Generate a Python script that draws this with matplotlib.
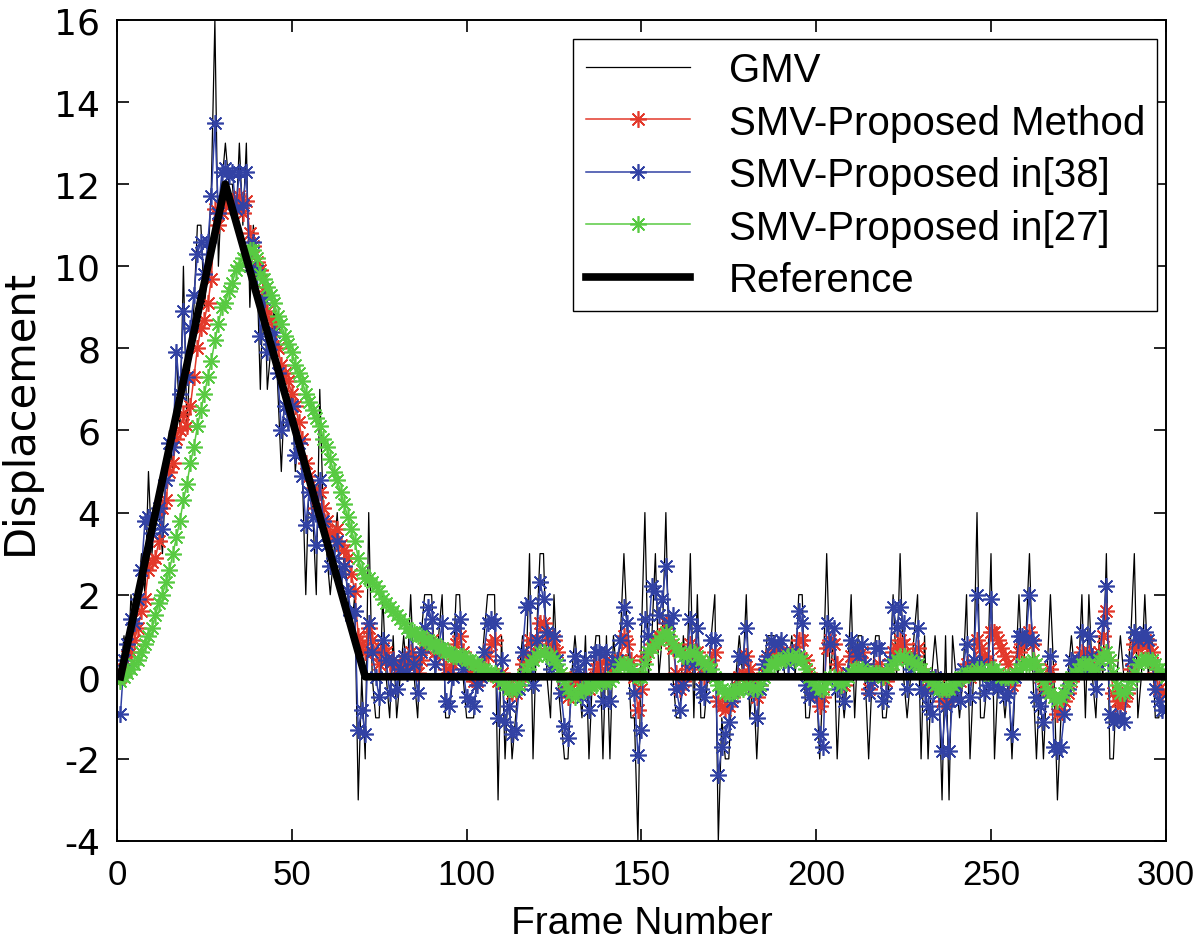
import numpy as np
import matplotlib
matplotlib.use("Agg")
import matplotlib.pyplot as plt

# frame numbers 1..300
frames = np.arange(1, 301)

gmv = [
    0, 1, 0, 2, 1, 2, 3, 2, 5, 3,
    4, 4, 3, 5, 6, 5, 8, 6, 10, 6,
    8, 9, 11, 11, 9, 10, 12, 16, 10, 12,
    13, 12, 12, 11, 13, 11, 13, 9, 11, 10,
    7, 10, 7, 8, 9, 7, 5, 7, 6, 7,
    5, 6, 5, 2, 5, 4, 2, 7, 4, 3,
    2, 3, 4, 2, 3, 2, 1, 2, -3, 0,
    -2, 4, 0, -1, -1, 2, 0, -1, 1, -1,
    0, 1, 0, 2, 0, -1, 1, 2, 2, 2,
    0, 1, 2, -1, -1, 0, 2, 2, 0, -1,
    -1, -1, 0, 0, 1, 2, 2, 2, -3, 1,
    -2, 0, -2, -1, 0, 1, 0, 3, -2, 1,
    3, 3, 0, -1, 2, 0, -1, -2, -2, 0,
    1, 0, -1, 1, -2, 0, 1, 1, -2, 1,
    -2, 1, 0, 1, 3, 1, -1, -1, -4, 1,
    4, 0, 1, 3, 0, 1, 4, 0, 0, -1,
    -1, 1, 0, 3, -1, 2, -1, -1, 0, 1,
    2, -4, -1, -2, -2, 0, 0, 1, 0, 2,
    -1, 0, -2, 0, 0, 1, 1, 1, 0, 1,
    0, 0, 1, 0, 2, 2, -1, -1, 0, 0,
    -2, 0, 3, 0, 1, -2, 0, -1, 0, 2,
    -1, 1, 1, 0, -2, 0, 1, 1, -1, -1,
    0, 2, 0, 3, 0, -1, 0, 1, 2, -2,
    1, -2, 0, 1, 0, -3, 1, -3, 1, 0,
    -1, 0, 2, -2, 0, 4, -1, -1, 0, 3,
    -2, 0, 0, -1, 0, -2, 0, 2, 0, 1,
    3, 0, -2, 0, -2, 0, 2, 0, -3, -1,
    0, 0, 1, 0, 0, 2, -1, 2, 0, -1,
    1, 0, 3, -2, -2, 0, 1, 0, 0, 1,
    3, -1, 0, 2, 0, 1, -1, -1, 0, 0,
]

smv_proposed = [
    0.0, 0.2, 0.5, 0.6, 0.9, 1.2, 1.6, 1.9, 2.6, 2.8,
    2.9, 3.3, 4.1, 4.3, 5.0, 5.2, 5.8, 6.0, 6.4, 6.1,
    6.6, 7.3, 8.0, 8.5, 8.7, 9.1, 9.7, 11.4, 11.0, 11.3,
    11.5, 11.6, 11.6, 11.5, 11.7, 11.3, 11.6, 10.8, 10.5, 10.1,
    9.9, 9.4, 8.9, 8.7, 8.6, 8.0, 7.6, 7.4, 7.2, 6.9,
    6.6, 6.2, 5.8, 5.2, 4.9, 4.6, 4.1, 4.5, 4.1, 3.8,
    3.5, 3.4, 3.6, 3.2, 3.1, 2.9, 2.5, 2.1, 1.0, 0.8,
    0.6, 1.2, 0.9, 0.6, 0.3, 0.7, 0.6, 0.3, 0.4, 0.2,
    0.3, 0.4, 0.3, 0.6, 0.4, 0.1, 0.4, 0.7, 0.9, 0.9,
    0.6, 0.5, 0.7, 0.2, 0.1, 0.3, 0.8, 1.0, 0.6, 0.3,
    0.1, -0.1, -0.1, 0.0, 0.2, 0.5, 0.8, 0.9, -0.1, 0.1,
    -0.2, -0.2, -0.4, -0.4, -0.1, 0.3, 0.5, 0.9, 0.5, 0.8,
    1.3, 1.3, 1.0, 0.7, 0.9, 0.6, 0.1, -0.3, -0.5, -0.3,
    0.0, -0.1, -0.2, 0.0, -0.3, -0.1, 0.2, 0.3, 0.0, 0.4,
    0.1, 0.3, 0.2, 0.4, 1.0, 0.8, 0.4, 0.0, -0.8, -0.3,
    0.5, 0.6, 0.8, 0.9, 1.0, 1.0, 1.3, 0.9, 0.7, 0.1,
    -0.3, -0.1, 0.2, 0.8, 0.5, 0.6, 0.2, 0.0, 0.1, 0.4,
    0.6, -0.6, -0.7, -0.8, -0.7, -0.5, -0.3, 0.0, 0.1, 0.5,
    0.2, -0.1, -0.5, -0.2, 0.1, 0.4, 0.5, 0.6, 0.6, 0.6,
    0.5, 0.5, 0.6, 0.6, 0.9, 0.9, 0.4, 0.1, -0.4, -0.4,
    -0.7, -0.5, 0.7, 0.9, 0.8, 0.3, 0.0, -0.2, 0.1, 0.5,
    0.4, 0.5, 0.6, 0.3, -0.3, -0.1, 0.2, 0.3, 0.0, -0.1,
    0.2, 0.6, 0.7, 0.9, 0.8, 0.5, 0.4, 0.5, 0.7, 0.2,
    0.1, -0.2, -0.2, 0.0, -0.2, -0.6, -0.4, -0.6, -0.3, -0.2,
    -0.1, 0.0, 0.3, 0.0, 0.2, 0.9, 0.7, 0.5, 0.4, 1.1,
    1.1, 0.9, 0.7, 0.5, 0.3, -0.2, 0.1, 0.6, 0.8, 0.9,
    1.1, 0.8, 0.3, 0.0, -0.3, -0.1, 0.2, -0.5, -0.9, -0.8,
    -0.6, -0.4, -0.1, 0.1, 0.3, 0.6, 0.5, 0.6, 0.5, 0.2,
    0.6, 1.0, 1.6, 0.4, -0.4, -0.6, -0.7, -0.6, -0.4, 0.2,
    0.8, 0.7, 0.8, 0.9, 0.8, 0.6, 0.1, -0.3, -0.4, -0.4,
]

smv_38 = [
    -0.9, 0.4, 0.8, 1.4, 1.3, 1.9, 2.6, 3.8, 3.9, 3.5,
    3.9, 4.1, 3.6, 4.8, 5.7, 5.6, 7.9, 6.9, 8.9, 7.3,
    8.5, 9.3, 10.3, 10.6, 9.8, 10.6, 11.7, 13.5, 11.3, 12.3,
    12.4, 12.2, 12.3, 11.4, 12.3, 11.5, 12.3, 10.0, 10.6, 9.9,
    8.3, 9.2, 7.9, 8.1, 8.4, 7.4, 6.0, 6.6, 6.2, 6.6,
    5.4, 5.7, 4.9, 3.7, 4.5, 3.9, 3.2, 4.8, 3.8, 3.2,
    2.7, 2.9, 3.3, 2.5, 2.7, 2.1, 1.5, 1.6, -1.3, -0.8,
    -1.4, 1.3, 0.6, 0.0, -0.5, 0.9, 0.4, -0.4, 0.4, -0.3,
    0.2, 0.5, 0.1, 1.1, 0.3, -0.4, 0.6, 1.2, 1.7, 1.4,
    0.3, 0.7, 1.3, -0.6, -0.7, 0.0, 1.2, 1.4, 0.2, -0.5,
    -0.6, -0.7, -0.2, 0.0, 0.6, 1.3, 1.4, 1.3, -1.0, 0.4,
    -1.1, -0.7, -1.4, -1.3, -0.3, 0.6, 1.7, 1.8, -0.2, 0.9,
    2.3, 1.9, 1.1, 0.2, 1.0, 0.4, -0.4, -1.2, -1.5, -0.4,
    0.5, 0.2, -0.5, 0.4, -0.8, -0.1, 0.6, 0.6, -0.6, 0.6,
    -0.6, 0.3, 0.4, 0.9, 1.7, 1.3, 0.2, -0.4, -1.9, -1.3,
    1.4, 1.0, 2.2, 2.1, 1.5, 1.9, 2.7, 1.3, 1.5, -0.3,
    -0.8, -0.2, 0.4, 1.4, 0.3, 1.2, -0.3, -0.5, 0.1, 0.9,
    0.9, -2.4, -1.7, -1.4, -1.1, -0.6, -0.3, 0.5, 0.4, 1.2,
    -0.2, -0.4, -1.0, -0.3, 0.3, 0.5, 0.9, 0.8, 0.8, 0.9,
    0.5, 0.3, 0.6, 0.5, 1.6, 1.3, -0.2, -0.5, -0.3, -0.4,
    -1.4, -1.7, 1.3, 0.8, 1.2, -0.3, -0.2, -0.6, 0.1, 0.9,
    0.7, 0.5, 0.8, 0.3, -0.4, -0.1, 0.7, 0.7, -0.6, -0.4,
    0.4, 1.7, 1.2, 1.7, 1.3, -0.3, 0.2, 0.4, 1.2, -0.3,
    -0.4, -0.7, -0.9, 0.0, -0.4, -1.8, -0.7, -1.8, -0.5, -0.2,
    -0.6, 0.2, 0.8, -0.5, 0.4, 2.0, 0.3, -0.4, -0.2, 1.9,
    -0.2, -0.3, -0.2, -0.5, -0.4, -1.4, 0.0, 1.0, 1.0, 0.9,
    2.0, 0.9, -0.5, -0.7, -1.1, -0.3, 0.5, -1.7, -1.8, -1.7,
    -0.9, -0.3, 0.4, 0.2, 0.4, 1.1, 0.2, 1.0, 0.5, -0.3,
    0.3, 1.3, 2.2, -0.9, -1.1, -1.0, -1.0, -1.1, -0.3, 0.4,
    1.1, 0.9, 1.0, 1.1, 0.9, 0.4, -0.3, -0.6, -0.8, -0.8,
]

smv_27 = [
    -0.1, 0.0, 0.1, 0.2, 0.3, 0.4, 0.6, 0.8, 1.0, 1.2,
    1.5, 1.8, 2.0, 2.3, 2.6, 3.0, 3.4, 3.8, 4.3, 4.7,
    5.2, 5.6, 6.1, 6.5, 6.9, 7.3, 7.7, 8.2, 8.6, 9.0,
    9.1, 9.4, 9.6, 9.9, 10.0, 10.2, 10.3, 10.4, 10.4, 10.2,
    9.8, 9.7, 9.5, 9.3, 9.1, 8.8, 8.6, 8.3, 8.1, 7.9,
    7.6, 7.4, 7.2, 6.9, 6.7, 6.5, 6.3, 6.1, 5.8, 5.6,
    5.3, 5.0, 4.8, 4.5, 4.2, 3.9, 3.6, 3.3, 2.9, 2.6,
    2.4, 2.4, 2.3, 2.2, 2.1, 1.9, 1.8, 1.7, 1.6, 1.5,
    1.4, 1.3, 1.2, 1.1, 1.1, 1.0, 1.0, 0.9, 0.9, 0.8,
    0.8, 0.7, 0.7, 0.6, 0.6, 0.5, 0.5, 0.5, 0.5, 0.4,
    0.4, 0.3, 0.3, 0.2, 0.2, 0.1, 0.1, 0.1, 0.0, -0.1,
    -0.2, -0.3, -0.3, -0.3, -0.2, 0.0, 0.2, 0.3, 0.4, 0.5,
    0.6, 0.6, 0.5, 0.5, 0.4, 0.3, 0.1, -0.1, -0.3, -0.4,
    -0.5, -0.4, -0.3, -0.3, -0.2, -0.2, -0.2, -0.1, -0.1, -0.1,
    -0.1, 0.0, 0.1, 0.3, 0.3, 0.3, 0.2, 0.1, 0.0, 0.0,
    0.3, 0.6, 0.7, 0.8, 0.9, 1.0, 1.1, 1.0, 0.8, 0.7,
    0.6, 0.5, 0.5, 0.6, 0.6, 0.5, 0.4, 0.3, 0.3, 0.2,
    0.0, -0.2, -0.3, -0.4, -0.4, -0.4, -0.3, -0.3, -0.3, -0.2,
    -0.2, -0.3, -0.3, -0.2, 0.0, 0.1, 0.3, 0.3, 0.4, 0.4,
    0.4, 0.5, 0.5, 0.4, 0.5, 0.4, 0.2, 0.0, -0.1, -0.2,
    -0.3, -0.3, -0.1, 0.0, 0.0, -0.1, -0.2, -0.1, 0.0, 0.1,
    0.2, 0.2, 0.2, 0.1, 0.1, 0.1, 0.1, 0.1, 0.0, 0.1,
    0.2, 0.3, 0.4, 0.5, 0.5, 0.4, 0.4, 0.3, 0.3, 0.2,
    0.1, 0.0, -0.1, -0.2, -0.3, -0.3, -0.3, -0.3, -0.2, -0.1,
    0.0, 0.0, 0.1, 0.1, 0.1, 0.2, 0.2, 0.1, 0.1, 0.2,
    0.2, 0.1, 0.0, 0.0, 0.0, 0.0, 0.1, 0.2, 0.3, 0.3,
    0.3, 0.4, 0.3, 0.1, -0.1, -0.3, -0.4, -0.5, -0.6, -0.5,
    -0.4, -0.2, 0.0, 0.1, 0.2, 0.3, 0.3, 0.3, 0.2, 0.2,
    0.4, 0.5, 0.6, 0.4, 0.1, -0.2, -0.4, -0.4, -0.3, -0.1,
    0.1, 0.3, 0.4, 0.4, 0.4, 0.4, 0.3, 0.2, 0.1, 0.0,
]

# reference trajectory corners
ref_frames = [1, 31, 71, 300]
ref_disp = [0, 12, 0, 0]

plt.rcParams['font.family'] = ['Liberation Sans', 'DejaVu Sans']
plt.rcParams['axes.unicode_minus'] = False

asterisk = (8, 2, 0)
fig = plt.figure(figsize=(12, 9.53), dpi=100)
ax = fig.add_axes([0.0975, 0.1165, 0.874, 0.8615])

ax.plot(frames, gmv, color='black', linewidth=0.9, label='GMV')
ax.plot(frames, smv_proposed, color='#e3392b', linewidth=1.1, marker=asterisk,
        markersize=12, markeredgewidth=1.2, label='SMV-Proposed Method')
ax.plot(frames, smv_38, color='#3242a4', linewidth=1.1, marker=asterisk,
        markersize=12, markeredgewidth=1.2, label='SMV-Proposed in[38]')
ax.plot(frames, smv_27, color='#58ca42', linewidth=1.1, marker=asterisk,
        markersize=12, markeredgewidth=1.2, label='SMV-Proposed in[27]')
ax.plot(ref_frames, ref_disp, color='black', linewidth=5.5, label='Reference')

ax.set_xlim(0, 300)
ax.set_ylim(-4, 16)
ax.set_xticks(range(0, 301, 50))
ax.set_yticks(range(-4, 17, 2))
ax.tick_params(direction='in', length=8.5, width=1.2, top=True, right=True)
ax.tick_params(axis='x', labelsize=25, pad=12)
ax.tick_params(axis='y', labelsize=26, pad=12)
for lab in ax.get_yticklabels():
    lab.set_family('DejaVu Sans')
for s in ax.spines.values():
    s.set_linewidth(1.4)

ax.set_xlabel('Frame Number', fontsize=28, labelpad=10)
ax.set_ylabel('Displacement', fontsize=30, family='DejaVu Sans')
ax.yaxis.set_label_coords(-0.073, 0.524)

leg = ax.legend(loc='upper right', fontsize=29, numpoints=1, fancybox=False,
                edgecolor='black', framealpha=1, handlelength=2.6,
                handletextpad=0.95, labelspacing=0.36, borderpad=0.3,
                borderaxespad=0, bbox_to_anchor=(1157 / 1200, 1 - 40 / 953),
                bbox_transform=fig.transFigure)
leg.get_frame().set_linewidth(1.0)

fig.savefig('out.png', dpi=100)
